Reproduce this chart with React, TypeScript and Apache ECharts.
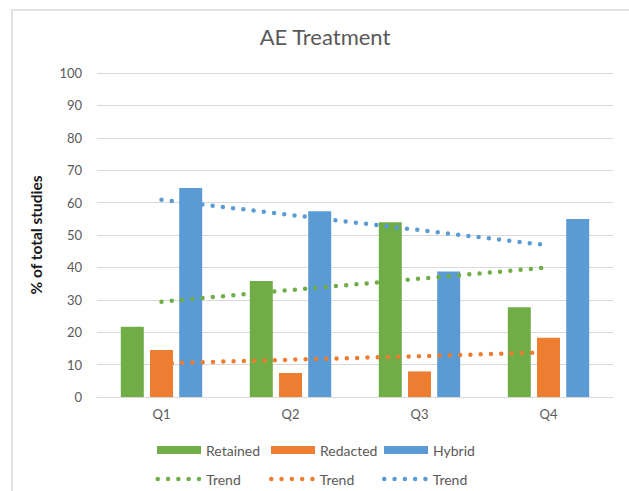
import React, { useEffect, useRef } from "react";
import * as echarts from "echarts";

const categories = ["Q1", "Q2", "Q3", "Q4"];
const retained = [21.7, 35.8, 53.9, 27.7];
const redacted = [14.5, 7.4, 7.9, 18.3];
const hybrid = [64.5, 57.3, 38.7, 54.9];
// trend line values at each quarter
const trendRetained = [29.4, 33.0, 36.5, 40.0];
const trendRedacted = [10.4, 11.5, 12.6, 13.8];
const trendHybrid = [60.9, 56.2, 51.5, 46.8];
const yTicks = { min: 0, max: 100, interval: 10 };

const GREEN = "#70ad47";
const ORANGE = "#ed7d31";
const BLUE = "#5b9bd5";
const FONT = "Lato";
const TEXT = "#595959";

// five dots icon for the dotted trend legend (circles r=2.25, spacing 10.3)
const dotsIcon = (() => {
  const r = 2.25;
  let d = "";
  for (let i = 0; i < 5; i++) {
    const cx = r + i * 10.3;
    d += `M${cx - r} ${r}A${r} ${r} 0 1 0 ${cx + r} ${r}A${r} ${r} 0 1 0 ${cx - r} ${r}Z`;
  }
  return "path://" + d;
})();

export default function App() {
  const ref = useRef<HTMLDivElement>(null);
  useEffect(() => {
    if (!ref.current) return;
    const chart = echarts.init(ref.current, null, { renderer: "svg" });
    const dotted = (color: string) => ({
      color,
      width: 4.5,
      type: [0, 10.3],
      cap: "round",
    });
    const legendCommon = {
      orient: "horizontal",
      itemGap: 0,
      padding: 0,
      textStyle: { fontFamily: FONT, fontSize: 14, color: TEXT },
    };
    const barLegend = (name: string, left: number) => ({
      ...legendCommon,
      left,
      top: 443,
      data: [name],
      itemWidth: 44,
      itemHeight: 8,
      icon: "rect",
    });
    const lineLegend = (name: string, left: number) => ({
      ...legendCommon,
      left,
      top: 472,
      data: [{ name, icon: dotsIcon }],
      itemWidth: 45.7,
      itemHeight: 4.5,
      formatter: (n: string) => n.trim(),
    });
    chart.setOption({
      animation: false,
      backgroundColor: "#ffffff",
      title: {
        text: "AE Treatment",
        left: 320,
        textAlign: "center",
        top: 20,
        textStyle: { fontFamily: FONT, fontSize: 22, fontWeight: "normal", color: TEXT },
      },
      graphic: [
        {
          type: "rect",
          shape: { x: 12, y: 10, width: 700, height: 600 },
          style: { fill: "none", stroke: "#d9d9d9", lineWidth: 1.5 },
          silent: true,
        },
      ],
      legend: [
        barLegend("Retained", 157),
        barLegend("Redacted", 271),
        barLegend("Hybrid", 384),
        lineLegend("Trend", 155.5),
        lineLegend("Trend ", 269),
        lineLegend("Trend  ", 382),
      ],
      grid: { left: 97, right: 16, top: 73, bottom: 94, containLabel: false },
      xAxis: {
        type: "category",
        data: categories,
        axisLine: { lineStyle: { color: "#d9d9d9", width: 1 } },
        axisTick: { show: false },
        axisLabel: { fontFamily: FONT, fontSize: 13, color: TEXT, margin: 10 },
      },
      yAxis: {
        type: "value",
        min: yTicks.min,
        max: yTicks.max,
        interval: yTicks.interval,
        name: "% of total studies",
        nameLocation: "middle",
        nameGap: 53,
        nameTextStyle: { fontFamily: FONT, fontSize: 15.5, fontWeight: "bold", color: "#1a1a1a" },
        axisLine: { show: false },
        axisTick: { show: false },
        axisLabel: { fontFamily: FONT, fontSize: 13, color: TEXT, margin: 15 },
        splitLine: { lineStyle: { color: "#d9d9d9", width: 1 } },
      },
      series: [
        { name: "Retained", type: "bar", data: retained, barWidth: 23, barGap: "27%", itemStyle: { color: GREEN } },
        { name: "Redacted", type: "bar", data: redacted, barWidth: 23, barGap: "27%", itemStyle: { color: ORANGE } },
        { name: "Hybrid", type: "bar", data: hybrid, barWidth: 23, barGap: "27%", itemStyle: { color: BLUE } },
        { name: "Trend", type: "line", data: trendRetained, symbol: "none", color: GREEN, itemStyle: { color: GREEN }, lineStyle: dotted(GREEN), z: 5 },
        { name: "Trend ", type: "line", data: trendRedacted, symbol: "none", color: ORANGE, itemStyle: { color: ORANGE }, lineStyle: dotted(ORANGE), z: 5 },
        { name: "Trend  ", type: "line", data: trendHybrid, symbol: "none", color: BLUE, itemStyle: { color: BLUE }, lineStyle: dotted(BLUE), z: 5 },
      ],
    });
    return () => chart.dispose();
  }, []);
  return (
    <div
      ref={ref}
      style={{ position: "fixed", left: 0, top: 0, width: 629, height: 491 }}
    />
  );
}
